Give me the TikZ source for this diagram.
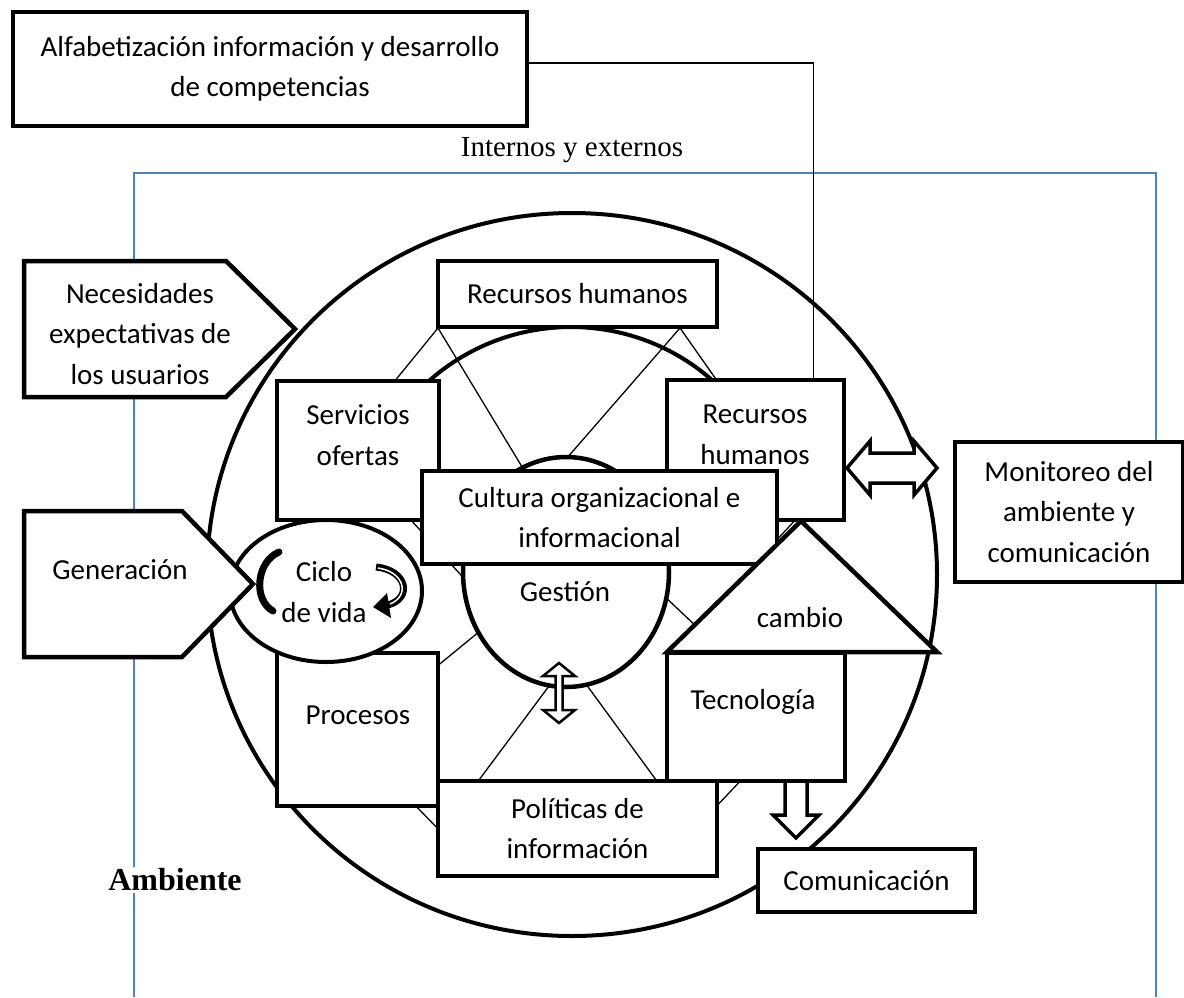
\documentclass[tikz,border=0pt]{standalone}
\usepackage{fontspec}
\setmainfont{Carlito}
\newfontfamily\timesfont{Liberation Serif}
\usetikzlibrary{shapes.geometric}
\definecolor{frameblue}{HTML}{4F81BD}
\begin{document}
\begin{tikzpicture}[x=1pt,y=-1pt,
  box/.style={draw, rectangle, line width=4.5pt, fill=white, inner sep=0pt, align=center, font=\fontsize{29}{40.5}\selectfont},
  shapeline/.style={draw, line width=4.5pt, fill=white},
  txt/.style={align=center, inner sep=0pt, font=\fontsize{29}{40.5}\selectfont},
  thinline/.style={line width=1.3pt},
  frameline/.style={draw=frameblue, line width=1.6pt},
  barrow/.style={draw, line width=3.5pt, fill=white, line join=miter},
]
\fill[white] (0,0) rectangle (1184,997);
\useasboundingbox (0,0) rectangle (1184,997);

% blue frame line
\coordinate (bl) at (134,997);
\coordinate (tl) at (134,173);
\coordinate (tr) at (1156,173);
\coordinate (br) at (1156,997);
\draw[frameline] (bl) -- (tl) -- (tr) -- (br);

% outer circle
\node[draw, ellipse, line width=4pt, minimum width=730pt, minimum height=723pt, inner sep=0pt] (outer) at (572,574.5) {};

% inner arc
\draw[line width=4pt] (419.7,389.7) arc[start angle=-135, end angle=-45, radius=214];

% thin lines
\draw[thinline] (438,328) -- (385,393);
\draw[thinline] (438,328) -- (530,480);
\draw[thinline] (680,328) -- (560,466);
\draw[thinline] (680,328) -- (725,392);
\draw[thinline] (400,508) -- (470,585);
\draw[thinline] (430,672) -- (480,631);
\draw[thinline] (660,592) -- (700,630);
\draw[thinline] (552,682) -- (476,784);
\draw[thinline] (583,680) -- (659,784);
\draw[thinline] (410,800) -- (445,836);
\draw[thinline] (712,811) -- (745,776);
\draw[thinline] (772,545) -- (800,515);

% boxes
\node[box, minimum width=279pt, minimum height=66pt] (rhtop) at (577.5,294) {Recursos humanos};
\node[box, minimum width=162pt, minimum height=139pt] (serv) at (358,450.5) {};
\node[txt] (servt) at (358,435) {Servicios\\ofertas};
\node[box, minimum width=177pt, minimum height=140pt] (rhr) at (755.5,450) {};
\node[txt] (rhrt) at (755,435) {Recursos\\humanos};
\node[box, minimum width=161pt, minimum height=153pt] (proc) at (357.5,729.5) {};
\node[txt] (proct) at (358,715) {Procesos};
\node[box, minimum width=178pt, minimum height=128pt] (tec) at (756,717) {};
\node[txt] (tect) at (753,702) {Tecnología};
\node[box, minimum width=279pt, minimum height=95pt] (pol) at (577.5,828.5) {Políticas de\\información};
\node[draw, ellipse, line width=4.5pt, fill=white, minimum width=206pt, minimum height=230pt, inner sep=0pt] (gest) at (566,572) {};
\node[txt] (gestt) at (565,592) {Gestión};
\node[box, minimum width=355pt, minimum height=93pt] (cult) at (599.5,517.5) {Cultura organizacional e\\informacional};
\draw[shapeline] (801,521) coordinate (triA) -- (937,652) coordinate (triR) -- (667,652) coordinate (triL) -- cycle;
\node[txt] (cambio) at (800,618) {cambio};
\node[draw, ellipse, line width=4pt, fill=white, minimum width=192pt, minimum height=142pt, inner sep=0pt] (ciclo) at (326,591) {};
\node[txt] (ciclot) at (324,592) {Ciclo\\de vida};
\draw[shapeline] (24,511) -- (182,511) -- (253,584) -- (182,657) -- (24,657) -- cycle;
\node[txt] (gent) at (120,570) {Generación};
\draw[shapeline] (24,261) -- (226,261) -- (295,329) -- (226,397) -- (24,397) -- cycle;
\node[txt] (nect) at (140,334) {Necesidades\\expectativas de\\los usuarios};
\node[box, minimum width=228pt, minimum height=140pt] (mon) at (1069,512) {Monitoreo del\\ambiente y\\comunicación};
\node[box, minimum width=217pt, minimum height=63pt] (com) at (866.5,880.5) {Comunicación};
\node[box, minimum width=514pt, minimum height=114pt] (alfa) at (270,69) {Alfabetización información y desarrollo\\de competencias};

% block arrows
\coordinate (va) at (559,693);
\draw[barrow, line width=2.5pt, shift={(va)}] (0,-30) -- (16,-17) -- (3.5,-17) -- (3.5,17) -- (16,17) -- (0,30) -- (-16,17) -- (-3.5,17) -- (-3.5,-17) -- (-16,-17) -- cycle;
\coordinate (ha) at (892,468);
\draw[barrow, shift={(ha)}] (-45,0) -- (-22,-27) -- (-22,-15) -- (22,-15) -- (22,-27) -- (45,0) -- (22,27) -- (22,15) -- (-22,15) -- (-22,27) -- cycle;
\coordinate (da) at (796,781);
\draw[barrow, shift={(da)}] (-11,0) -- (11,0) -- (11,34) -- (23,34) -- (0,57) -- (-23,34) -- (-11,34) -- cycle;

% cycle arrows
\draw[line width=7pt, line cap=round] (279,552) .. controls (256,562) and (253,600) .. (273,611);
\draw[line width=7pt] (376,567) .. controls (407,570) and (413,598) .. (388,605);
\fill (373,607) -- (387,593) -- (391,618) -- cycle;
\draw[white, line width=1.5pt] (378,568) .. controls (405,572) and (410,596) .. (390,604);

% free texts
\node[font=\timesfont\fontsize{29}{34}\selectfont, inner sep=0pt] (intern) at (572,150) {Internos y externos};
\node[font=\timesfont\bfseries\fontsize{32}{38}\selectfont, fill=white, inner sep=2pt] (amb) at (175,880) {Ambiente};

% connector
\draw[line width=1.3pt] ([yshift=6pt]alfa.east) -| ([xshift=-33pt]rhr.north east);
\end{tikzpicture}
\end{document}
